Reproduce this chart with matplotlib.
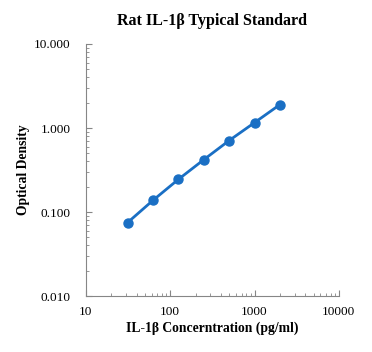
import matplotlib
matplotlib.use("Agg")
from matplotlib import pyplot as plt
from matplotlib.ticker import FixedLocator, FixedFormatter, LogLocator, NullFormatter

# Standard curve data
conc = [31.25, 62.5, 125, 250, 500, 1000, 2000]
od = [0.075, 0.138, 0.245, 0.42, 0.71, 1.16, 1.90]

x_ticks = [10, 100, 1000, 10000]
x_labels = ["10", "100", "1000", "10000"]
y_ticks = [0.01, 0.1, 1, 10]
y_labels = ["0.010", "0.100", "1.000", "10.000"]

BLUE = "#1a6fc4"
GRAY = "#868686"

plt.rcParams['font.family'] = ['Liberation Serif', 'DejaVu Serif']

fig = plt.figure(figsize=(3.72, 3.52), dpi=100)
ax = fig.add_axes([0.231, 0.159, 0.68, 0.716])

ax.plot(conc, od, color=BLUE, lw=2.0, marker='o', markersize=6.5)

ax.set_xscale('log')
ax.set_yscale('log')
ax.set_xlim(10, 10000)
ax.set_ylim(0.01, 10)

ax.xaxis.set_major_locator(FixedLocator(x_ticks))
ax.xaxis.set_major_formatter(FixedFormatter(x_labels))
ax.yaxis.set_major_locator(FixedLocator(y_ticks))
ax.yaxis.set_major_formatter(FixedFormatter(y_labels))
for axis in (ax.xaxis, ax.yaxis):
    axis.set_minor_locator(LogLocator(base=10, subs=range(2, 10)))
    axis.set_minor_formatter(NullFormatter())

ax.tick_params(which='both', direction='in', color=GRAY, labelsize=9.5)
ax.tick_params(axis='x', pad=7)
ax.tick_params(axis='y', pad=11)
ax.tick_params(which='major', length=4)
ax.tick_params(which='minor', length=2.5)

for side in ('top', 'right'):
    ax.spines[side].set_visible(False)
for side in ('left', 'bottom'):
    ax.spines[side].set_color(GRAY)
    ax.spines[side].set_linewidth(0.8)

ax.set_title("Rat IL-1β Typical Standard", fontsize=11.5, fontweight='bold', pad=14)
ax.set_xlabel("IL-1β Concerntration (pg/ml)", fontsize=9.8, fontweight='bold', labelpad=3)
ax.set_ylabel("Optical Density", fontsize=9.8, fontweight='bold', labelpad=3)

fig.savefig("out.png", dpi=100)
